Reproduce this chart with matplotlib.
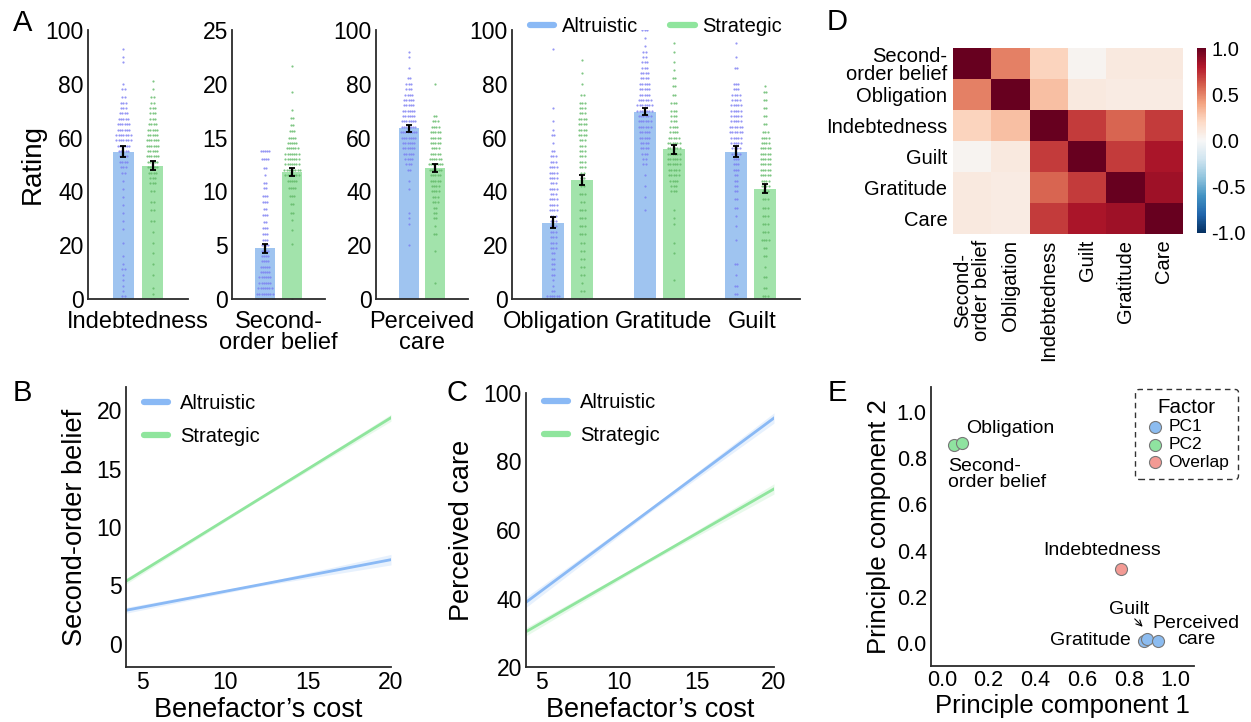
import numpy as np
import matplotlib
matplotlib.use('Agg')
import matplotlib.pyplot as plt

plt.rcParams['font.family'] = ['Liberation Sans', 'DejaVu Sans']

W, H = 1251, 722

# ---- panel A data (rating distributions: value bins + counts) ----
ind_alt_v = [93, 90, 88, 80, 78, 75, 73, 71, 69, 67, 65, 63, 61, 59, 57, 55, 53, 51, 49, 47, 44, 41, 38, 35, 32, 29, 26, 21, 16, 13, 11, 9, 7, 5, 3, 1]
ind_alt_n = [1, 1, 1, 1, 2, 2, 3, 3, 4, 5, 6, 6, 7, 7, 6, 5, 4, 4, 3, 2, 1, 1, 1, 1, 1, 1, 1, 1, 1, 1, 2, 1, 1, 1, 1, 2]
ind_str_v = [81, 78, 75, 73, 71, 69, 67, 65, 63, 61, 59, 57, 55, 53, 51, 49, 47, 45, 43, 40, 36, 33, 29, 25, 21, 17, 13, 9, 4, 2, 0]
ind_str_n = [1, 1, 2, 2, 3, 3, 3, 4, 5, 5, 6, 6, 5, 6, 5, 5, 4, 3, 3, 2, 2, 2, 2, 1, 1, 1, 1, 1, 1, 1, 2]

sob_alt_v = [13.8, 13.0, 12.2, 11.5, 10.8, 10.3, 9.6, 9.0, 8.4, 7.8, 7.2, 6.6, 6.0, 5.5, 5.0, 4.5, 4.0, 3.5, 3.0, 2.5, 2.0, 1.5, 1.0, 0.5, 0.0]
sob_alt_n = [5, 4, 2, 1, 2, 2, 3, 3, 2, 3, 2, 3, 3, 3, 4, 4, 4, 4, 5, 5, 6, 6, 7, 8, 9]
sob_str_v = [21.7, 19.2, 17.6, 16.8, 16.2, 15.6, 15.0, 14.5, 14.0, 13.5, 13.0, 12.5, 12.0, 11.5, 11.0, 10.3, 9.6, 8.8, 8.0, 7.3, 6.4, 5.1, 0.0]
sob_str_n = [1, 1, 1, 2, 2, 3, 4, 5, 6, 7, 7, 7, 8, 7, 5, 4, 3, 2, 2, 1, 1, 1, 1]

pc_alt_v = [92, 90, 86, 82, 80, 78, 76, 74, 72, 70, 68, 66, 64, 62, 60, 58, 56, 54, 52, 50, 48, 44, 41, 32, 30, 28, 20]
pc_alt_n = [1, 1, 1, 2, 3, 3, 4, 5, 5, 6, 6, 7, 7, 8, 7, 6, 6, 5, 4, 3, 2, 1, 1, 1, 1, 1, 1]
pc_str_v = [80, 68, 66, 64, 62, 60, 58, 56, 54, 52, 50, 48, 46, 44, 42, 40, 38, 36, 34, 32, 30, 27, 24, 18, 6]
pc_str_n = [1, 2, 3, 4, 5, 5, 5, 4, 5, 6, 7, 6, 5, 5, 4, 4, 3, 3, 2, 2, 2, 1, 2, 1, 1]

obl_alt_v = [93, 71, 66, 63, 61, 58, 55, 53, 51, 49, 47, 45, 43, 41, 39, 37, 35, 33, 31, 29, 27, 25, 23, 21, 19, 17, 15, 13, 11, 9, 7, 5, 3, 1, 0]
obl_alt_n = [1, 1, 1, 1, 2, 1, 2, 3, 3, 4, 4, 4, 3, 4, 3, 4, 4, 4, 3, 3, 3, 3, 3, 3, 3, 2, 2, 2, 2, 2, 1, 1, 2, 6, 8]
obl_str_v = [89, 84, 80, 76, 73, 71, 69, 67, 65, 63, 61, 59, 57, 55, 53, 51, 49, 47, 45, 42, 39, 36, 33, 30, 27, 24, 21, 18, 15, 12, 9, 6, 3, 0]
obl_str_n = [1, 1, 1, 2, 3, 3, 3, 4, 4, 4, 4, 3, 3, 3, 3, 3, 3, 2, 2, 2, 3, 2, 3, 3, 3, 3, 2, 2, 2, 2, 2, 1, 2, 3]

gra_alt_v = [100, 97, 94, 92, 90, 88, 86, 84, 82, 80, 78, 76, 74, 72, 70, 68, 66, 64, 62, 60, 58, 56, 54, 52, 50, 46, 42, 38, 33]
gra_alt_n = [3, 1, 1, 2, 2, 3, 3, 4, 4, 5, 5, 5, 6, 7, 7, 6, 6, 6, 5, 5, 4, 4, 3, 2, 2, 1, 1, 1, 1]
gra_str_v = [95, 92, 88, 85, 82, 79, 76, 73, 70, 68, 66, 64, 62, 60, 58, 56, 54, 52, 50, 48, 46, 44, 42, 40, 33, 30, 28, 21, 17, 7]
gra_str_n = [1, 1, 1, 1, 2, 2, 2, 3, 3, 3, 3, 4, 4, 5, 6, 6, 6, 6, 6, 5, 5, 4, 3, 3, 1, 1, 1, 1, 1, 1]

gui_alt_v = [95, 90, 86, 80, 78, 76, 74, 72, 70, 68, 66, 64, 62, 60, 58, 56, 54, 52, 50, 48, 46, 44, 42, 40, 37, 34, 31, 27, 22, 13, 9, 5, 2, 0]
gui_alt_n = [1, 1, 2, 3, 3, 4, 4, 5, 5, 5, 5, 6, 6, 5, 5, 4, 4, 3, 3, 3, 2, 2, 2, 2, 2, 2, 1, 1, 1, 2, 1, 2, 2, 1]
gui_str_v = [79, 77, 74, 71, 68, 65, 62, 60, 58, 56, 54, 52, 50, 48, 46, 44, 42, 40, 37, 34, 31, 28, 25, 22, 19, 16, 12, 8, 4, 1]
gui_str_n = [1, 2, 2, 2, 2, 2, 3, 4, 4, 5, 5, 5, 5, 5, 5, 4, 4, 3, 3, 3, 3, 3, 3, 4, 2, 2, 1, 2, 2, 3]

# bar means / standard errors
mean_alt = {'ind': 54.8, 'sob': 4.7, 'pc': 63.4, 'obl': 28.3, 'gra': 69.6, 'gui': 54.8}
mean_str = {'ind': 49.6, 'sob': 11.8, 'pc': 48.7, 'obl': 44.3, 'gra': 55.6, 'gui': 41.0}
se_alt = {'ind': 2.0, 'sob': 0.45, 'pc': 1.4, 'obl': 2.0, 'gra': 1.3, 'gui': 1.9}
se_str = {'ind': 1.6, 'sob': 0.35, 'pc': 1.4, 'obl': 1.9, 'gra': 1.6, 'gui': 1.7}

# ---- panel B / C regression lines ----
cost = [4, 12, 20]
sob_line_alt = [2.86, 5.03, 7.2]
sob_band_alt = [0.25, 0.12, 0.45]
sob_line_str = [5.35, 12.36, 19.37]
sob_band_str = [0.25, 0.1, 0.3]
care_line_alt = [38.9, 65.8, 92.7]
care_band_alt = [1.5, 0.6, 1.5]
care_line_str = [30.3, 51.15, 72.0]
care_band_str = [1.2, 0.5, 1.5]

# ---- panel D correlations ----
corr_labels = ['Second-\norder belief', 'Obligation', 'Indebtedness', 'Guilt', 'Gratitude', 'Care']
corr = np.array([
    [1.00, 0.50, 0.22, 0.03, 0.10, 0.10],
    [0.50, 1.00, 0.30, 0.10, 0.08, 0.08],
    [0.22, 0.30, 1.00, 0.70, 0.58, 0.70],
    [0.03, 0.10, 0.70, 1.00, 0.70, 0.82],
    [0.10, 0.08, 0.58, 0.70, 1.00, 0.85],
    [0.10, 0.08, 0.70, 0.82, 0.85, 1.00],
])

# ---- panel E loadings ----
pc_names = ['Second-order belief', 'Obligation', 'Indebtedness', 'Gratitude', 'Guilt', 'Perceived care']
pc1 = [0.05, 0.085, 0.768, 0.864, 0.879, 0.926]
pc2 = [0.855, 0.865, 0.32, 0.01, 0.018, 0.01]
pc_factor = ['PC2', 'PC2', 'Overlap', 'PC1', 'PC1', 'PC1']

blue_bar = '#9fc4f0'
green_bar = '#a2e3ab'
blue_dot = '#7b7df2'
green_dot = '#5fb865'
blue_line = '#8ab9f5'
green_line = '#8fe59d'
spine_c = '#2b2b2b'


def rect(l, r, t, b):
    return [l / W, 1 - b / H, (r - l) / W, (b - t) / H]


def style(ax):
    for s in ['top', 'right']:
        ax.spines[s].set_visible(False)
    for s in ['left', 'bottom']:
        ax.spines[s].set_color(spine_c)
        ax.spines[s].set_linewidth(1.3)
    ax.tick_params(length=0, labelsize=16.5, pad=3)


def bar_swarm(ax, x, mean, se, vals, counts, bc, dc):
    ax.bar(x, mean, width=0.24, color=bc, zorder=1)
    xs, ys = [], []
    for v, n in zip(vals, counts):
        off = (np.arange(n) - (n - 1) / 2) * 0.026
        xs.extend(x + off)
        ys.extend([v] * n)
    ax.scatter(xs, ys, s=2.5, color=dc, alpha=0.8, linewidths=0, zorder=2)
    ax.errorbar(x, mean, yerr=se, color='black', capsize=2, elinewidth=1.6,
                capthick=1.3, zorder=3)


def thick_legend(leg):
    for h in leg.get_lines():
        h.set_linewidth(4.5)
        h.set_solid_capstyle('round')


fig = plt.figure(figsize=(W / 100, H / 100), dpi=100)

# ---- panel A ----
single = [
    ('ind', 'Indebtedness', 88, 188, 100, ind_alt_v, ind_alt_n, ind_str_v, ind_str_n),
    ('sob', 'Second-\norder belief', 232, 325, 25, sob_alt_v, sob_alt_n, sob_str_v, sob_str_n),
    ('pc', 'Perceived\ncare', 376, 468, 100, pc_alt_v, pc_alt_n, pc_str_v, pc_str_n),
]
for key, lab, l, r, ymax, av, an, sv, sn in single:
    ax = fig.add_axes(rect(l, r, 30, 299))
    style(ax)
    bar_swarm(ax, -0.16, mean_alt[key], se_alt[key], av, an, blue_bar, blue_dot)
    bar_swarm(ax, 0.16, mean_str[key], se_str[key], sv, sn, green_bar, green_dot)
    ax.set_xlim(-0.55, 0.55)
    ax.set_ylim(0, ymax)
    ax.set_yticks(np.linspace(0, ymax, 6))
    ax.set_xticks([0])
    ax.set_xticklabels([lab], fontsize=17, linespacing=0.95)
    ax.tick_params(axis='x', pad=8.5)
    if key == 'ind':
        ax.set_ylabel('Rating', fontsize=20, labelpad=0)

ax4 = fig.add_axes(rect(512, 800, 30, 299))
style(ax4)
groups = [('obl', obl_alt_v, obl_alt_n, obl_str_v, obl_str_n),
          ('gra', gra_alt_v, gra_alt_n, gra_str_v, gra_str_n),
          ('gui', gui_alt_v, gui_alt_n, gui_str_v, gui_str_n)]
for g, (key, av, an, sv, sn) in enumerate(groups):
    bar_swarm(ax4, g - 0.16, mean_alt[key], se_alt[key], av, an, blue_bar, blue_dot)
    bar_swarm(ax4, g + 0.16, mean_str[key], se_str[key], sv, sn, green_bar, green_dot)
ax4.set_xlim(-0.61, 2.54)
ax4.set_ylim(0, 100)
ax4.set_yticks([0, 20, 40, 60, 80, 100])
ax4.set_xticks([-0.13, 1.05, 2.02])
ax4.set_xticklabels(['Obligation', 'Gratitude', 'Guilt'], fontsize=17)
ax4.tick_params(axis='x', pad=8.5)
ax4.plot([], [], color=blue_line, lw=4.5, label='Altruistic')
ax4.plot([], [], color=green_line, lw=4.5, label='Strategic')
leg4 = ax4.legend(loc='upper center', bbox_to_anchor=(0.5, 1.115), ncol=2, frameon=False,
                  fontsize=14.5, handlelength=1.2, columnspacing=1.6, handletextpad=0.4)
thick_legend(leg4)

# ---- panel B ----
axB = fig.add_axes(rect(126, 391, 387, 667))
style(axB)
for y, b, c, lab in [(sob_line_alt, sob_band_alt, blue_line, 'Altruistic'),
                     (sob_line_str, sob_band_str, green_line, 'Strategic')]:
    y = np.array(y)
    b = np.array(b)
    axB.fill_between(cost, y - b, y + b, color=c, alpha=0.2, linewidth=0)
    axB.plot(cost, y, color=c, lw=2, label=lab)
axB.set_xlim(4, 20)
axB.set_ylim(-2, 22)
axB.set_xticks([5, 10, 15, 20])
axB.set_yticks([0, 5, 10, 15, 20])
axB.set_xlabel("Benefactor\u2019s cost", fontsize=19.5, labelpad=2)
axB.set_ylabel('Second-order belief', fontsize=19.5, labelpad=6)
legB = axB.legend(loc='upper left', frameon=False, fontsize=14.5, handlelength=1.2,
                  handletextpad=0.6, labelspacing=0.7, bbox_to_anchor=(0.0, 1.04))
thick_legend(legB)

# ---- panel C ----
axC = fig.add_axes(rect(526, 774, 393, 667))
style(axC)
for y, b, c, lab in [(care_line_alt, care_band_alt, blue_line, 'Altruistic'),
                     (care_line_str, care_band_str, green_line, 'Strategic')]:
    y = np.array(y)
    b = np.array(b)
    axC.fill_between(cost, y - b, y + b, color=c, alpha=0.2, linewidth=0)
    axC.plot(cost, y, color=c, lw=2, label=lab)
axC.set_xlim(4, 20)
axC.set_ylim(20, 100)
axC.set_xticks([5, 10, 15, 20])
axC.set_yticks([20, 40, 60, 80, 100])
axC.set_xlabel("Benefactor\u2019s cost", fontsize=19.5, labelpad=2)
axC.set_ylabel('Perceived care', fontsize=19.5, labelpad=6)
legC = axC.legend(loc='upper left', frameon=False, fontsize=14.5, handlelength=1.2,
                  handletextpad=0.6, labelspacing=0.7, bbox_to_anchor=(0.0, 1.065))
thick_legend(legC)

# ---- panel D ----
axD = fig.add_axes(rect(953, 1183, 48, 234))
im = axD.imshow(corr, cmap='RdBu_r', vmin=-1, vmax=1, aspect='auto')
for s in axD.spines.values():
    s.set_visible(False)
axD.set_xticks(range(6))
axD.set_yticks(range(6))
axD.set_xticklabels(corr_labels, rotation=90, fontsize=14.5, linespacing=0.95)
axD.set_yticklabels(corr_labels, fontsize=14.5, linespacing=0.95)
axD.tick_params(length=0, pad=4)
cax = fig.add_axes(rect(1197, 1206, 48, 233))
cb = fig.colorbar(im, cax=cax, ticks=[-1, -0.5, 0, 0.5, 1])
cb.ax.set_yticklabels(['-1.0', '-0.5', '0.0', '0.5', '1.0'])
cb.ax.tick_params(length=0, labelsize=14.5, pad=4)
cb.outline.set_visible(False)

# ---- panel E ----
axE = fig.add_axes(rect(931, 1194, 387, 666))
style(axE)
fac_col = {'PC1': '#8cbcf0', 'PC2': '#8fe3a0', 'Overlap': '#f39a94'}
for f in ['PC1', 'PC2', 'Overlap']:
    idx = [i for i, ff in enumerate(pc_factor) if ff == f]
    axE.scatter([pc1[i] for i in idx], [pc2[i] for i in idx], s=75, color=fac_col[f],
                edgecolors='#777777', linewidths=0.8, label=f, zorder=3)
axE.set_xlim(-0.047, 1.08)
axE.set_ylim(-0.1, 1.108)
axE.set_xticks(np.arange(0, 1.01, 0.2))
axE.set_yticks(np.arange(0, 1.01, 0.2))
axE.set_xticklabels(['%.1f' % t for t in np.arange(0, 1.01, 0.2)], fontsize=15.5)
axE.set_yticklabels(['%.1f' % t for t in np.arange(0, 1.01, 0.2)], fontsize=15.5)
axE.set_xlabel('Principle component 1', fontsize=18.5, labelpad=2)
axE.set_ylabel('Principle component 2', fontsize=18.5, labelpad=4)
afs = 14
axE.text(0.105, 0.93, 'Obligation', fontsize=afs, ha='left', va='center')
axE.text(0.027, 0.73, 'Second-\norder belief', fontsize=afs, ha='left', va='center', linespacing=0.9)
axE.text(0.685, 0.40, 'Indebtedness', fontsize=afs, ha='center', va='center')
axE.text(0.80, 0.146, 'Guilt', fontsize=afs, ha='center', va='center')
axE.annotate('', xy=(0.86, 0.07), xytext=(0.826, 0.104),
             arrowprops=dict(arrowstyle='->', lw=0.8, color='black', shrinkA=0, shrinkB=0))
axE.text(0.81, 0.01, 'Gratitude', fontsize=afs, ha='right', va='center')
axE.text(1.09, 0.05, 'Perceived\ncare', fontsize=afs, ha='center', va='center',
         linespacing=0.9, clip_on=False)
legE = axE.legend(title='Factor', loc='upper right', bbox_to_anchor=(1238 / W, 1 - 389 / H),
                  bbox_transform=fig.transFigure, fontsize=12.5, title_fontsize=14.8,
                  handletextpad=0.1, labelspacing=0.15, borderpad=0.5, handlelength=1.3,
                  borderaxespad=0, fancybox=True, framealpha=1)
legE.get_frame().set_linestyle((0, (4, 3)))
legE.get_frame().set_edgecolor('#333333')
legE.get_frame().set_linewidth(1.0)

# ---- panel letters ----
for lab, x, y in [('A', 23, 23), ('B', 22, 393), ('C', 457, 393), ('D', 837, 22), ('E', 837, 393)]:
    fig.text(x / W, 1 - y / H, lab, fontsize=21, ha='center', va='center')

fig.savefig('out.png', dpi=100)
